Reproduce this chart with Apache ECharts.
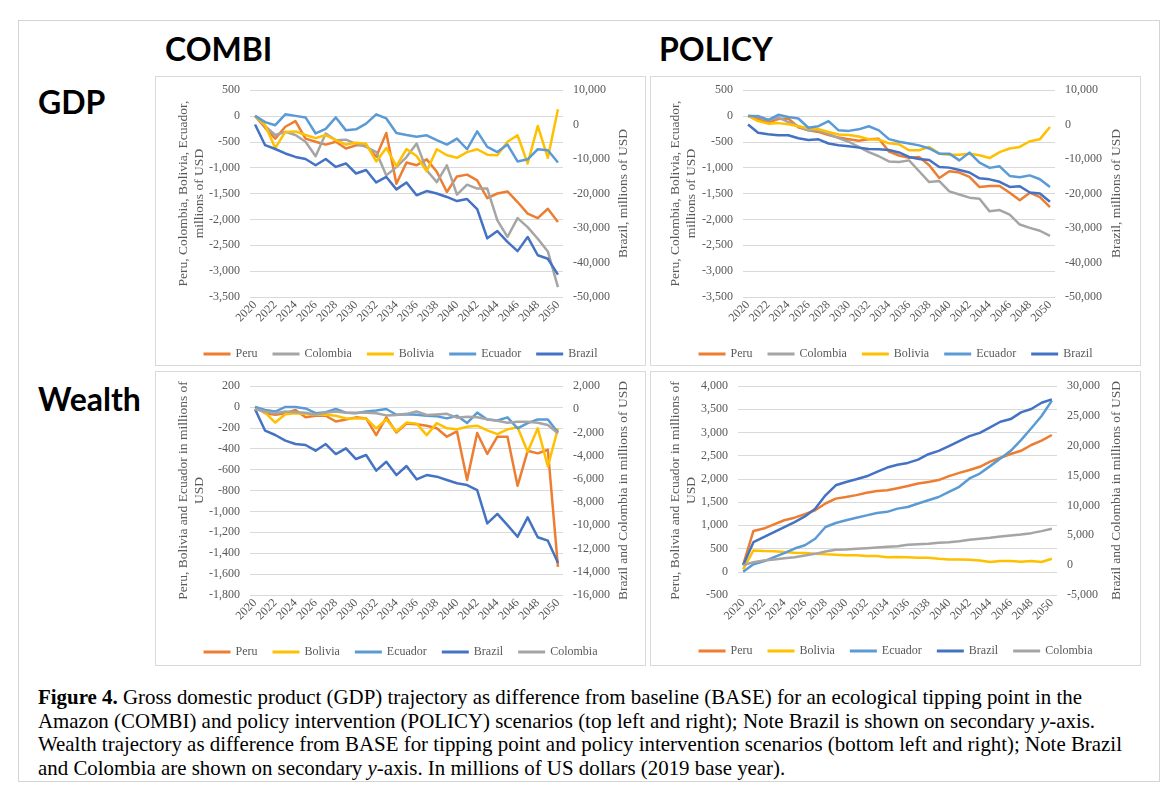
<!DOCTYPE html>
<html>
<head>
<meta charset="utf-8">
<script src="https://cdn.jsdelivr.net/npm/echarts@6/dist/echarts.min.js"></script>
<style>
  body { margin: 0; background: #fff; }
  .page { position: relative; width: 1170px; height: 804px; overflow: hidden; }
  .frame { position: absolute; left: 18px; top: 20px; width: 1142px; height: 762px; border: 1px solid #d4d4d4; box-sizing: border-box; }
  .head { position: absolute; font-family: Lato, "Open Sans", sans-serif; font-weight: bold; font-size: 32px; line-height: 1; color: #000; }
  .panel { position: absolute; width: 491px; border: 1px solid #d9d9d9; box-sizing: border-box; background: #fff; }
  .panel .chart { width: 100%; height: 100%; }
  .caption { position: absolute; left: 38px; top: 686px; font-family: "Liberation Serif", "DejaVu Serif", serif; font-size: 20.9px; line-height: 23.5px; color: #000; white-space: nowrap; }
</style>
</head>
<body>
<div class="page">
  <div class="frame"></div>
  <div class="head" style="left:165px; top:33px;">COMBI</div>
  <div class="head" style="left:659px; top:33px;">POLICY</div>
  <div class="head" style="left:38px; top:86px;">GDP</div>
  <div class="head" style="left:38px; top:383px;">Wealth</div>

  <div class="panel" style="left:155px; top:76px; height:290px;"><div id="p1" class="chart"></div></div>
  <div class="panel" style="left:650px; top:76px; height:290px;"><div id="p2" class="chart"></div></div>
  <div class="panel" style="left:155px; top:371px; height:295px;"><div id="p3" class="chart"></div></div>
  <div class="panel" style="left:650px; top:371px; height:295px;"><div id="p4" class="chart"></div></div>

  <div class="caption">
    <b>Figure 4.</b> Gross domestic product (GDP) trajectory as difference from baseline (BASE) for an ecological tipping point in the<br>
    Amazon (COMBI) and policy intervention (POLICY) scenarios (top left and right); Note Brazil is shown on secondary <i>y</i>-axis.<br>
    Wealth trajectory as difference from BASE for tipping point and policy intervention scenarios (bottom left and right); Note Brazil<br>
    and Colombia are shown on secondary <i>y</i>-axis. In millions of US dollars (2019 base year).
  </div>
</div>

<script>
// years on the x axis
const years = ['2020','2021','2022','2023','2024','2025','2026','2027','2028','2029','2030',
  '2031','2032','2033','2034','2035','2036','2037','2038','2039','2040',
  '2041','2042','2043','2044','2045','2046','2047','2048','2049','2050'];

// GDP, COMBI (Brazil on right axis)
const combiGdpPeru = [0,-230,-440,-210,-100,-440,-500,-555,-500,-630,-570,-570,-790,-330,-1310,-900,
  -955,-840,-1080,-1470,-1170,-1135,-1245,-1590,-1500,-1460,-1665,-1890,-1975,-1795,-2050];
const combiGdpColombia = [0,-200,-370,-310,-370,-500,-780,-340,-470,-460,-540,-600,-700,-1150,-990,-795,
  -535,-1050,-1280,-955,-1520,-1330,-1405,-1405,-2020,-2340,-1975,-2150,-2375,-2620,-3310];
const combiGdpBolivia = [0,-180,-620,-310,-300,-370,-430,-370,-470,-555,-520,-540,-880,-620,-970,-640,
  -775,-1070,-645,-760,-810,-700,-645,-750,-760,-500,-375,-920,-195,-810,130];
const combiGdpEcuador = [0,-120,-180,30,0,-30,-340,-250,-30,-280,-260,-150,30,-50,-330,-370,
  -405,-375,-470,-555,-440,-645,-300,-600,-700,-555,-880,-840,-645,-665,-900];
const combiGdpBrazil = [0,-6000,-7100,-8400,-9400,-10000,-11800,-10000,-12300,-11300,-14200,-13200,-16800,-15200,-18800,-16800,
  -20500,-19300,-20000,-21000,-22200,-21600,-24500,-33000,-30900,-34000,-36700,-32600,-37900,-38900,-43500];

// GDP, POLICY (Brazil on right axis)
const policyGdpPeru = [0,-60,-130,-60,-50,-220,-280,-310,-370,-420,-450,-480,-450,-440,-690,-765,
  -810,-795,-955,-1200,-1070,-1095,-1180,-1375,-1355,-1355,-1485,-1630,-1485,-1570,-1765];
const policyGdpColombia = [0,0,-80,-30,-120,-200,-280,-280,-350,-430,-500,-600,-700,-780,-880,-890,
  -860,-1070,-1280,-1260,-1460,-1520,-1580,-1600,-1845,-1820,-1910,-2100,-2165,-2220,-2320];
const policyGdpBolivia = [0,-100,-150,-140,-160,-200,-240,-260,-310,-360,-370,-400,-450,-460,-530,-550,
  -665,-665,-600,-730,-750,-750,-730,-760,-815,-700,-630,-600,-490,-450,-215];
const policyGdpEcuador = [0,-10,-80,20,-20,-50,-230,-200,-100,-280,-290,-260,-200,-280,-450,-500,
  -535,-570,-630,-730,-730,-860,-710,-905,-1005,-975,-1160,-1185,-1150,-1225,-1375];
const policyGdpBrazil = [0,-2400,-2800,-3100,-3100,-4000,-4500,-4300,-5500,-6000,-6300,-6700,-7100,-7200,-7400,-8100,
  -9400,-10000,-10300,-12300,-12500,-13200,-13900,-15600,-15900,-16600,-18100,-17900,-19700,-20000,-22400];

// Wealth, COMBI (Brazil and Colombia on right axis)
const combiWealthPeru = [0,-60,-75,-60,-30,-100,-85,-85,-140,-120,-100,-110,-270,-100,-245,-160,
  -165,-180,-205,-285,-235,-700,-250,-450,-285,-285,-755,-420,-445,-410,-1530];
const combiWealthBolivia = [0,-55,-150,-70,-60,-65,-75,-75,-85,-110,-110,-110,-205,-120,-235,-150,
  -160,-270,-155,-205,-215,-190,-180,-225,-260,-215,-195,-430,-205,-570,-205];
const combiWealthEcuador = [0,-30,-45,0,0,-15,-60,-50,-20,-55,-60,-45,-35,-20,-75,-70,
  -75,-85,-90,-110,-85,-155,-55,-120,-130,-100,-205,-155,-120,-120,-245];
const combiWealthBrazil = [0,-1850,-2220,-2700,-3000,-3080,-3570,-3000,-3860,-3370,-4290,-3940,-5290,-4520,-5670,-4890,
  -6040,-5670,-5810,-6100,-6380,-6530,-6960,-9830,-9020,-9980,-10980,-9310,-11030,-11320,-13220];
const combiWealthColombia = [0,-200,-350,-200,-250,-300,-450,-300,-200,-300,-300,-300,-350,-530,-500,-400,
  -200,-500,-450,-400,-730,-640,-700,-870,-990,-1160,-1070,-1070,-1160,-1360,-2080];

// Wealth, POLICY (Brazil and Colombia on right axis)
const policyWealthPeru = [150,880,930,1020,1110,1165,1240,1325,1470,1575,1610,1650,1700,1740,1755,1800,
  1845,1900,1935,1975,2060,2130,2190,2260,2370,2455,2535,2605,2730,2825,2945];
const policyWealthBolivia = [50,460,445,440,425,410,405,390,375,365,355,355,340,340,315,320,
  315,300,300,280,265,265,260,245,210,230,230,215,230,210,280];
const policyWealthEcuador = [0,160,225,315,400,500,570,710,965,1050,1110,1165,1215,1265,1290,1360,
  1395,1470,1540,1610,1720,1830,2010,2115,2275,2440,2605,2835,3090,3355,3685];
const policyWealthBrazil = [0,3850,4690,5530,6370,7210,8160,9450,11690,13370,13930,14380,14880,15610,16340,16800,
  17120,17680,18580,19140,19920,20760,21600,22160,23060,24010,24460,25580,26140,27200,27760];
const policyWealthColombia = [0,490,770,940,1160,1330,1610,1890,2280,2560,2620,2730,2840,2950,3060,3180,
  3400,3510,3570,3740,3850,4020,4240,4410,4580,4800,4970,5140,5360,5700,6090];

const colors = {
  Peru: '#ED7D31',
  Colombia: '#A5A5A5',
  Bolivia: '#FFC000',
  Ecuador: '#5B9BD5',
  Brazil: '#4472C4'
};

const serif = '"Liberation Serif", "DejaVu Serif", serif';
const labelColor = '#595959';

const fmt = v => v.toLocaleString('en-US');

// one panel = one chart, left axis for the small countries, right axis for the big ones
const panelOption = (p) => {
  return {
    animation: false,
    grid: {
      left: p.grid[0], top: p.grid[1], width: p.grid[2], height: p.grid[3],
      outerBoundsMode: 'none'
    },
    legend: {
      top: p.legendTop,
      left: 'center',
      icon: 'rect',
      itemWidth: 27,
      itemHeight: 3,
      itemGap: 15,
      textStyle: { fontFamily: serif, fontSize: 12, color: labelColor },
      data: p.series.map(s => s[0])
    },
    xAxis: {
      type: 'category',
      data: years,
      axisLine: { show: false },
      axisTick: { show: false },
      axisLabel: {
        interval: 1, rotate: 45, margin: 6,
        fontFamily: serif, fontSize: 12, color: labelColor
      },
      splitLine: { show: false }
    },
    yAxis: [
      {
        type: 'value',
        min: p.left[0], max: p.left[1], interval: p.left[2],
        name: p.leftName,
        nameLocation: 'middle',
        nameGap: p.leftGap,
        nameMoveOverlap: false,
        nameTextStyle: { fontFamily: serif, fontSize: 13.5, color: labelColor, lineHeight: 16 },
        axisLine: { show: false },
        axisTick: { show: false },
        axisLabel: { formatter: fmt, margin: 10, fontFamily: serif, fontSize: 12, color: labelColor },
        splitLine: { lineStyle: { color: '#d9d9d9', width: 1 } }
      },
      {
        type: 'value',
        position: 'right',
        min: p.right[0], max: p.right[1], interval: p.right[2],
        name: p.rightName,
        nameLocation: 'middle',
        nameGap: p.rightGap,
        nameMoveOverlap: false,
        nameTextStyle: { fontFamily: serif, fontSize: 13.5, color: labelColor },
        axisLine: { show: false },
        axisTick: { show: false },
        axisLabel: { formatter: fmt, margin: 10, fontFamily: serif, fontSize: 12, color: labelColor },
        splitLine: { show: false }
      }
    ],
    series: p.series.map(s => ({
      name: s[0],
      type: 'line',
      data: s[1],
      yAxisIndex: s[2],
      symbol: 'none',
      showSymbol: false,
      lineStyle: { width: 2.5, color: colors[s[0]], join: 'round' },
      itemStyle: { color: colors[s[0]] }
    }))
  };
};

const panels = [
  {
    id: 'p1', grid: [94, 13, 313, 207], legendTop: 266,
    left: [-3500, 500, 500], right: [-50000, 10000, 10000],
    leftName: 'Peru, Colombia, Bolivia, Ecuador,\nmillions of USD', leftGap: 43,
    rightName: 'Brazil, millions of USD', rightGap: 53,
    series: [
      ['Peru', combiGdpPeru, 0],
      ['Colombia', combiGdpColombia, 0],
      ['Bolivia', combiGdpBolivia, 0],
      ['Ecuador', combiGdpEcuador, 0],
      ['Brazil', combiGdpBrazil, 1]
    ]
  },
  {
    id: 'p2', grid: [92, 13, 312, 207], legendTop: 266,
    left: [-3500, 500, 500], right: [-50000, 10000, 10000],
    leftName: 'Peru, Colombia, Bolivia, Ecuador,\nmillions of USD', leftGap: 44,
    rightName: 'Brazil, millions of USD', rightGap: 54,
    series: [
      ['Peru', policyGdpPeru, 0],
      ['Colombia', policyGdpColombia, 0],
      ['Bolivia', policyGdpBolivia, 0],
      ['Ecuador', policyGdpEcuador, 0],
      ['Brazil', policyGdpBrazil, 1]
    ]
  },
  {
    id: 'p3', grid: [94, 14, 313, 209], legendTop: 269,
    left: [-1800, 200, 200], right: [-16000, 2000, 2000],
    leftName: 'Peru, Bolivia and Ecuador in millions of\nUSD', leftGap: 43,
    rightName: 'Brazil and Colombia in millions of USD', rightGap: 53,
    series: [
      ['Peru', combiWealthPeru, 0],
      ['Bolivia', combiWealthBolivia, 0],
      ['Ecuador', combiWealthEcuador, 0],
      ['Brazil', combiWealthBrazil, 1],
      ['Colombia', combiWealthColombia, 1]
    ]
  },
  {
    id: 'p4', grid: [87, 14, 319, 209], legendTop: 268,
    left: [-500, 4000, 500], right: [-5000, 30000, 5000],
    leftName: 'Peru, Bolivia and Ecuador in millions of\nUSD', leftGap: 39,
    rightName: 'Brazil and Colombia in millions of USD', rightGap: 52,
    series: [
      ['Peru', policyWealthPeru, 0],
      ['Bolivia', policyWealthBolivia, 0],
      ['Ecuador', policyWealthEcuador, 0],
      ['Brazil', policyWealthBrazil, 1],
      ['Colombia', policyWealthColombia, 1]
    ]
  }
];

panels.forEach(p => {
  const myChart = echarts.init(document.getElementById(p.id));
  myChart.setOption(panelOption(p));
});
</script>
</body>
</html>
